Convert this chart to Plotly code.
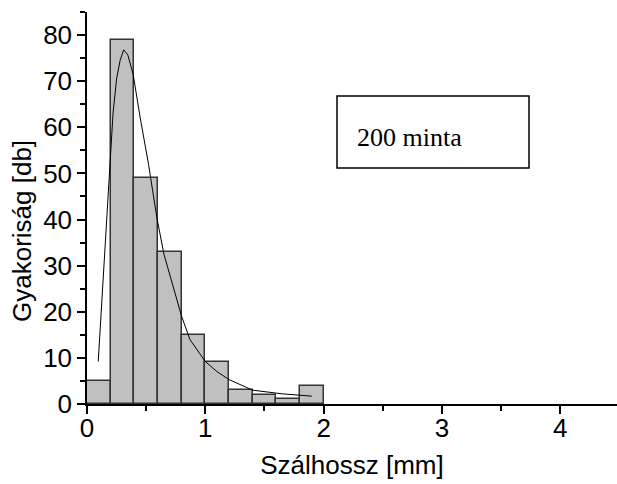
import plotly.graph_objects as go

# Histogram data (bin width 0.2 mm)
bin_centers = [0.1, 0.3, 0.5, 0.7, 0.9, 1.1, 1.3, 1.5, 1.7, 1.9]
bin_width = 0.2
counts = [5, 79, 49, 33, 15, 9, 3, 2, 1, 4]

# Fitted curve
fit_x = [0.095, 0.2, 0.22, 0.25, 0.28, 0.31, 0.345, 0.39, 0.45, 0.52, 0.59,
         0.65, 0.72, 0.8, 0.87, 1.0, 1.1, 1.2, 1.4, 1.65, 1.9]
fit_y = [9.2, 54, 63, 70.5, 74.5, 76.8, 75.7, 71.5, 62, 52, 40.5,
         32.5, 26, 19, 14, 9.2, 7, 5.3, 3.0, 2.2, 1.7]

x_ticks = [0, 1, 2, 3, 4]
y_ticks = [0, 10, 20, 30, 40, 50, 60, 70, 80]

x_title = "Szálhossz [mm]"
y_title = "Gyakoriság [db]"
box_text = "200 minta"

W, H = 617, 484
ML, MR, MT, MB = 87, 0, 12, 80

fig = go.Figure()
fig.add_trace(go.Bar(
    x=bin_centers, y=counts, width=[bin_width] * len(counts),
    marker=dict(color="#c0c0c0", line=dict(color="#333333", width=1.5)),
    showlegend=False,
))
fig.add_trace(go.Scatter(
    x=fit_x, y=fit_y, mode="lines",
    line=dict(color="black", width=1),
    showlegend=False,
))

font_sans = "Liberation Sans, Arial, sans-serif"
FS = 26

fig.update_layout(
    width=W, height=H,
    margin=dict(l=ML, r=MR, t=MT, b=MB),
    paper_bgcolor="white", plot_bgcolor="white",
    font=dict(family=font_sans, color="black", size=FS),
    bargap=0,
    xaxis=dict(
        range=[0, 4.48], tickvals=x_ticks, ticktext=[str(v) for v in x_ticks],
        showgrid=False, zeroline=False, showline=True, linecolor="black",
        linewidth=1.5, ticks="outside", ticklen=8, tickwidth=1.5,
        tickcolor="black", tickfont=dict(size=FS), ticklabelstandoff=-8,
        minor=dict(ticks="outside", ticklen=5, tickwidth=1.5,
                   tickcolor="black", dtick=0.5, tick0=0),
        title=dict(text=x_title, font=dict(size=FS), standoff=14),
    ),
    yaxis=dict(
        range=[0, 85], tickvals=y_ticks, ticktext=[str(v) for v in y_ticks],
        showgrid=False, zeroline=False, showline=True, linecolor="black",
        linewidth=1.5, ticks="outside", ticklen=8, tickwidth=1.5,
        tickcolor="black", tickfont=dict(size=FS),
        minor=dict(ticks="outside", ticklen=5, tickwidth=1.5,
                   tickcolor="black", dtick=5, tick0=0),
    ),
)

pw = W - ML - MR
ph = H - MT - MB


def px_x(p):
    return (p - ML) / pw


def px_y(p):
    return (H - MB - p) / ph


# y-axis title, sitting lower than the plot centre as in the original
fig.add_annotation(xref="paper", yref="paper", x=px_x(22), y=px_y(231),
                   xanchor="center", yanchor="middle", showarrow=False,
                   textangle=-90, text=y_title,
                   font=dict(family=font_sans, size=FS, color="black"))

fig.add_shape(type="rect", xref="paper", yref="paper",
              x0=px_x(337), x1=px_x(529), y0=px_y(168), y1=px_y(96),
              line=dict(color="black", width=1.5), fillcolor="white")
fig.add_annotation(xref="paper", yref="paper", x=px_x(355), y=px_y(137),
                   xanchor="left", yanchor="middle", showarrow=False,
                   text=box_text,
                   font=dict(family="Liberation Serif, Times New Roman, serif",
                             size=26, color="black"))

fig.write_html("out.html")
